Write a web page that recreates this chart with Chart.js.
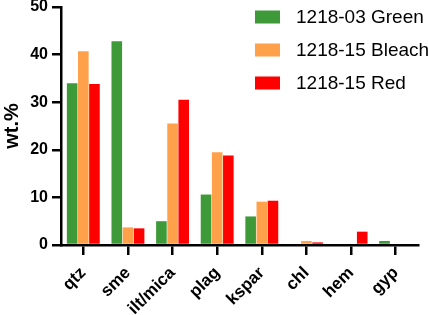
<!DOCTYPE html>
<html>
<head>
<meta charset="utf-8">
<script src="https://cdn.jsdelivr.net/npm/chart.js@4"></script>
<style>
  html, body { margin: 0; padding: 0; background: #fff; }
  #wrap { width: 429px; height: 315px; }
</style>
</head>
<body>
<div id="wrap"><canvas id="chart" width="429" height="315"></canvas></div>
<script>
// minerals along the x axis
const minerals = ['qtz', 'sme', 'ilt/mica', 'plag', 'kspar', 'chl', 'hem', 'gyp'];

// wt.% per sample
const green03 = [34.0, 42.8, 5.0, 10.6, 6.0, 0, 0, 0.85];
const bleach15 = [40.7, 3.7, 25.5, 19.5, 9.1, 0.85, 0, 0];
const red15 = [33.8, 3.5, 30.5, 18.8, 9.3, 0.55, 2.8, 0];

const yTicks = [0, 10, 20, 30, 40, 50];

const FONT = "'Liberation Sans', Arial, Helvetica, sans-serif";

// legend drawn inside the plot, top right
const insideLegend = {
    id: 'insideLegend',
    afterDraw(chart) {
        const ctx = chart.ctx;
        ctx.save();
        ctx.font = '19px ' + FONT;
        ctx.textBaseline = 'middle';
        chart.data.datasets.forEach((ds, i) => {
            const y = 17 + i * 33;
            ctx.fillStyle = ds.backgroundColor;
            ctx.fillRect(255, y - 6.5, 25, 13);
            ctx.fillStyle = '#000';
            ctx.fillText(ds.label, 296, y + 1);
        });
        ctx.restore();
    }
};

new Chart(document.getElementById('chart'), {
    type: 'bar',
    data: {
        labels: minerals,
        datasets: [
            { label: '1218-03 Green', data: green03, backgroundColor: '#3e9a38' },
            { label: '1218-15 Bleach', data: bleach15, backgroundColor: '#ffa04b' },
            { label: '1218-15 Red', data: red15, backgroundColor: '#ff0000' }
        ]
    },
    options: {
        responsive: false,
        animation: false,
        layout: { padding: { top: 0, right: 11, left: 0, bottom: 0 } },
        datasets: {
            bar: { categoryPercentage: 0.75, barPercentage: 0.95 }
        },
        plugins: {
            legend: { display: false },
            tooltip: { enabled: false }
        },
        scales: {
            x: {
                afterFit(axis) { axis.height = 70; },
                grid: { offset: false, drawOnChartArea: false, drawTicks: true, tickLength: 10, color: '#000', lineWidth: 2.5 },
                border: { display: true, color: '#000', width: 2.5 },
                ticks: {
                    color: '#000',
                    font: { family: FONT, size: 17, weight: 'bold' },
                    maxRotation: 45, minRotation: 45,
                    padding: 8
                }
            },
            y: {
                min: 0, max: 50,
                afterFit(axis) { axis.width = 61; axis.paddingTop = 7; },
                afterBuildTicks(axis) { axis.ticks = yTicks.map(v => ({ value: v })); },
                grid: { drawOnChartArea: false, drawTicks: true, tickLength: 9, color: '#000', lineWidth: 2.5 },
                border: { display: true, color: '#000', width: 2.5 },
                ticks: {
                    color: '#000',
                    font: { family: FONT, size: 16, weight: 'bold' },
                    padding: 4
                },
                title: {
                    display: true,
                    text: 'wt.%',
                    color: '#000',
                    font: { family: FONT, size: 20, weight: 'bold' },
                    padding: { top: 0, bottom: 4 }
                }
            }
        }
    },
    plugins: [insideLegend]
});
</script>
</body>
</html>
